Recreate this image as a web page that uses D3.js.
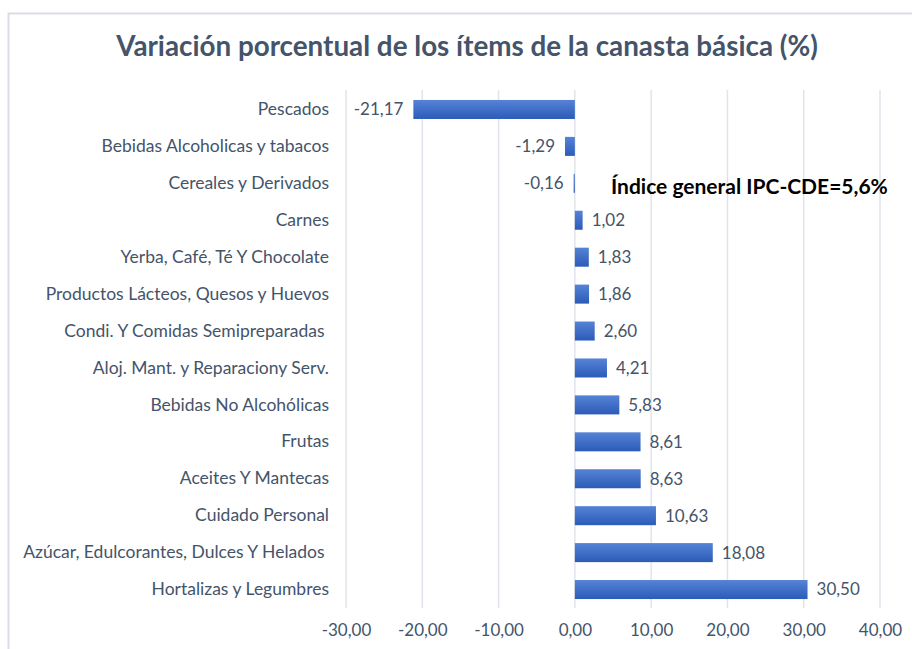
<!DOCTYPE html>
<html>
<head>
<meta charset="utf-8">
<script src="https://cdn.jsdelivr.net/npm/d3@7"></script>
<style>
  html, body { margin: 0; padding: 0; background: #fff; }
  svg { display: block; }
</style>
</head>
<body>
<svg id="chart" width="912" height="649"></svg>
<script>
const categories = [
  "Pescados",
  "Bebidas Alcoholicas y tabacos",
  "Cereales y Derivados",
  "Carnes",
  "Yerba, Café, Té Y Chocolate",
  "Productos Lácteos, Quesos y Huevos",
  "Condi. Y Comidas Semipreparadas ",
  "Aloj. Mant. y Reparaciony Serv.",
  "Bebidas No Alcohólicas",
  "Frutas",
  "Aceites Y Mantecas",
  "Cuidado Personal",
  "Azúcar, Edulcorantes, Dulces Y Helados ",
  "Hortalizas y Legumbres"
];
const values = [-21.17, -1.29, -0.16, 1.02, 1.83, 1.86, 2.60, 4.21, 5.83, 8.61, 8.63, 10.63, 18.08, 30.50];
const tickValues = [-30, -20, -10, 0, 10, 20, 30, 40];
const titleText = "Variación porcentual de los ítems de la canasta básica (%)";
const noteText = "Índice general IPC-CDE=5,6%";

const svg = d3.select("#chart");
const fontFam = "Lato, 'Open Sans', sans-serif";
const fmt = v => d3.format(".2f")(v).replace("\u2212", "-").replace(".", ",");

// outer frame
svg.append("rect").attr("x", 8.5).attr("y", 13.5).attr("width", 912).attr("height", 660)
  .attr("fill", "none").attr("stroke", "#D9DEE5").attr("stroke-width", 2);

const defs = svg.append("defs");
const grad = defs.append("linearGradient").attr("id", "barGrad")
  .attr("x1", 0).attr("y1", 0).attr("x2", 0).attr("y2", 1);
grad.append("stop").attr("offset", "0%").attr("stop-color", "#5583D6");
grad.append("stop").attr("offset", "100%").attr("stop-color", "#2C5BB8");

const x = d3.scaleLinear().domain([-30, 40]).range([346, 880]);
const y = d3.scaleBand().domain(categories).range([91, 608])
  .paddingInner(0.485).paddingOuter(0.2425);

// gridlines
svg.append("g").selectAll("line").data(tickValues).join("line")
  .attr("x1", d => x(d)).attr("x2", d => x(d))
  .attr("y1", 90).attr("y2", 608)
  .attr("stroke", "#E1E4EA").attr("stroke-width", 1.5);

// x axis labels
const xAxis = d3.axisBottom(x).tickValues(tickValues).tickSize(0).tickPadding(0)
  .tickFormat(d => fmt(d));
const gx = svg.append("g").attr("transform", "translate(0,624)").call(xAxis);
gx.select(".domain").remove();
gx.selectAll("text").attr("font-family", fontFam).attr("font-size", 17)
  .attr("fill", "#44546A").attr("dy", "0.71em");

// y axis labels
const yAxis = d3.axisLeft(y).tickSize(0).tickPadding(0);
const gy = svg.append("g").attr("transform", "translate(329,0)").call(yAxis);
gy.select(".domain").remove();
gy.selectAll("text").attr("font-family", fontFam).attr("font-size", 17.5)
  .attr("fill", "#44546A").style("white-space", "pre");

// bars
svg.append("g").selectAll("rect").data(categories).join("rect")
  .attr("x", (d, i) => x(Math.min(0, values[i])))
  .attr("width", (d, i) => Math.abs(x(values[i]) - x(0)))
  .attr("y", d => y(d))
  .attr("height", y.bandwidth())
  .attr("fill", "url(#barGrad)");

// value labels
svg.append("g").selectAll("text").data(categories).join("text")
  .attr("x", (d, i) => values[i] >= 0 ? x(values[i]) + 9 : x(values[i]) - 10)
  .attr("y", d => y(d) + y.bandwidth() / 2)
  .attr("dy", "0.35em")
  .attr("text-anchor", (d, i) => values[i] >= 0 ? "start" : "end")
  .attr("font-family", fontFam).attr("font-size", 17).attr("fill", "#44546A")
  .text((d, i) => fmt(values[i]));

// title
svg.append("text").attr("x", 467).attr("y", 56).attr("text-anchor", "middle")
  .attr("font-family", fontFam).attr("font-size", 27.8).attr("font-weight", "bold")
  .attr("fill", "#44546A").text(titleText);

// annotation
svg.append("text").attr("x", 611).attr("y", 194)
  .attr("font-family", fontFam).attr("font-size", 21).attr("font-weight", "bold")
  .attr("fill", "#000").text(noteText);
</script>
</body>
</html>
